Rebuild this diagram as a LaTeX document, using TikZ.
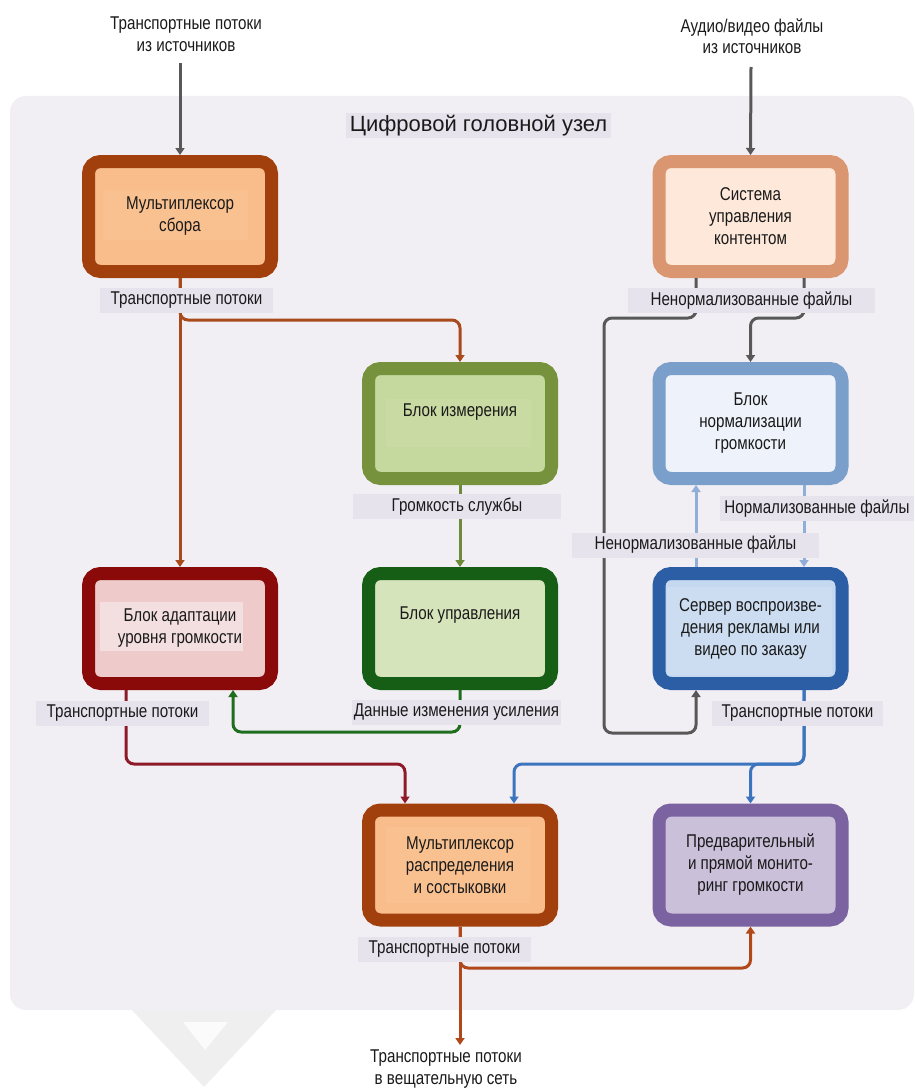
\documentclass[tikz,border=0pt]{standalone}
\usepackage{fontspec}
\setmainfont{Liberation Sans}[FakeStretch=0.82]
\newfontfamily\titlefont{Liberation Sans}
\usetikzlibrary{arrows.meta}

% panel, labels, text
\definecolor{panelbg}{HTML}{F2EFF4}
\definecolor{lblbg}{HTML}{E7E3ED}
\definecolor{chev}{HTML}{EFEFEF}
\definecolor{chevin}{HTML}{FBFBFB}
\definecolor{txtcol}{HTML}{1A1A1A}
% block borders / fills / text areas
\definecolor{b1b}{HTML}{A1400C}\definecolor{b1f}{HTML}{F9BC8B}\definecolor{b1t}{HTML}{F9C190}
\definecolor{b2b}{HTML}{DA9670}\definecolor{b2f}{HTML}{FDE8D9}
\definecolor{b3b}{HTML}{76923C}\definecolor{b3f}{HTML}{C5D89D}\definecolor{b3t}{HTML}{C9DBA3}
\definecolor{b4b}{HTML}{7A9FCB}\definecolor{b4f}{HTML}{EEF2FA}
\definecolor{b5b}{HTML}{8A0A0A}\definecolor{b5f}{HTML}{EECACA}\definecolor{b5t}{HTML}{F3DFDF}
\definecolor{b6b}{HTML}{165E16}\definecolor{b6f}{HTML}{D6E4BC}
\definecolor{b7b}{HTML}{2C5EA6}\definecolor{b7f}{HTML}{C4D8F0}\definecolor{b7t}{HTML}{CCDDF2}
\definecolor{b9b}{HTML}{7B62A0}\definecolor{b9f}{HTML}{CBC0DA}
% connectors
\definecolor{cgray}{HTML}{585858}
\definecolor{cbrown}{HTML}{A94A1C}
\definecolor{colive}{HTML}{6E8B3B}
\definecolor{cgreen}{HTML}{1E6E1E}
\definecolor{cmaroon}{HTML}{8E1A28}
\definecolor{cblue}{HTML}{3C74BE}
\definecolor{clblue}{HTML}{8FAED8}
\definecolor{cbrowntwo}{HTML}{B0481A}

\begin{document}
\begin{tikzpicture}[x=1pt,y=-1pt,
  box/.style 2 args={draw=#1, fill=#2, line width=13pt, rounded corners=12pt,
    minimum width=183pt, minimum height=110pt, inner sep=0pt, outer sep=6.5pt},
  txt/.style={font=\fontsize{18.5}{22}\selectfont, align=center, text=txtcol, inner sep=0pt},
  lbl/.style={txt, fill=lblbg, minimum height=25pt},
  conn/.style={draw=#1, line width=3pt, rounded corners=8pt},
  arrowend/.style={-{Triangle[length=7pt,width=9pt]}},
]
\useasboundingbox (0,0) rectangle (914,1089);

% pointer below the head-end panel
\fill[chev] (130,1008) -- (278,1008) -- (204,1087) -- cycle;
\fill[chevin] (183,1022) -- (228,1022) -- (205,1050) -- cycle;
% head-end panel
\fill[panelbg, rounded corners=16pt] (10,96) rectangle (914,1010);

% blocks
\node[box={b1b}{b1f}] (b1) at (180,216.5) {};
\node[box={b2b}{b2f}] (b2) at (750.5,216.5) {};
\node[box={b3b}{b3f}] (b3) at (460,423.5) {};
\node[box={b4b}{b4f}] (b4) at (750.5,423.5) {};
\node[box={b5b}{b5f}] (b5) at (180,628.5) {};
\node[box={b6b}{b6f}] (b6) at (460,628.5) {};
\node[box={b7b}{b7f}] (b7) at (750.5,628.5) {};
\node[box={b1b}{b1f}] (b8) at (460,865) {};
\node[box={b9b}{b9f}] (b9) at (750.5,865) {};

% text areas inside blocks
\fill[b1t] (103,190) rectangle (248,240);
\fill[b3t] (386,399) rectangle (531,447);
\fill[b5t] (100,602) rectangle (243,651);
\fill[b7t] (667,587) rectangle (832,675);
\fill[b1t] (386,827) rectangle (531,903);

% block captions
\node[txt] (t1) at (b1) {Мультиплексор\\сбора};
\node[txt] (t2) at (b2) {Система\\управления\\контентом};
\node[txt] (t3) at (460,412) {Блок измерения};
\node[txt] (t4) at (b4) {Блок\\нормализации\\громкости};
\node[txt] (t5) at (b5) {Блок адаптации\\уровня громкости};
\node[txt] (t6) at (460,615) {Блок управления};
\node[txt] (t7) at (b7) {Сервер воспроизве-\\дения рекламы или\\видео по заказу};
\node[txt] (t8) at (b8) {Мультиплексор\\распределения\\и состыковки};
\node[txt] (t9) at (b9) {Предварительный\\и прямой монито-\\ринг громкости};

% external texts
\node[txt, font=\fontsize{18.5}{21.5}\selectfont] (src1) at (186,34) {Транспортные потоки\\из источников};
\node[txt, font=\fontsize{18.5}{21.5}\selectfont] (src2) at (752,36) {Аудио/видео файлы\\из источников};
\node[txt, font=\fontsize{18.5}{21.5}\selectfont] (dst) at (446,1069) {Транспортные потоки\\в вещательную сеть};

% connector way points
\coordinate (in1) at (180,63);
\coordinate (in2) at (751,67);
\coordinate (r1) at (460,320);
\coordinate (g1) at (233,732);
\coordinate (m1) at (126,764);
\coordinate (m2) at (405,764);
\coordinate (u1) at (804,764);
\coordinate (u2) at (514,764);
\coordinate (k1) at (604,318);
\coordinate (k2) at (604,733);
\coordinate (k3) at (696,733);
\coordinate (k4) at (804,318);
\coordinate (o1) at (460,1045);
\coordinate (o2) at (750.5,968);

% inputs
\draw[conn=cgray, arrowend] (in1) -- (b1.north);
\draw[conn=cgray, arrowend] (in2) -- (b2.north);
% transport streams from the collecting multiplexer
\draw[conn=cbrown, arrowend] (b1.south) -- (b5.north);
\draw[conn=cbrown, arrowend] (b1.south) |- (r1) -- (b3.north);
% loudness measurement and control
\draw[conn=colive, arrowend] (b3.south) -- (b6.north);
\draw[conn=cgreen, arrowend] (b6.south) |- (g1) -- (g1 |- b5.south);
% adapted streams to the distribution multiplexer
\draw[conn=cmaroon, arrowend] (m1 |- b5.south) -- (m1) -- (m2) -- (m2 |- b8.north);
% server output
\draw[conn=cblue, arrowend] (u1 |- b7.south) -- (u1) -- (u2) -- (u2 |- b8.north);
\draw[conn=cblue, arrowend] (u1 |- b7.south) -- (u1) -| (b9.north);
% content management outputs
\draw[conn=cgray, arrowend] (k3 |- b2.south) |- (k1) -- (k2) -- (k3) -- (k3 |- b7.south);
\draw[conn=cgray, arrowend] (k4 |- b2.south) -- (k4) -| (b4.north);
% normalisation loop
\draw[conn=clblue, arrowend] (k3 |- b7.north) -- (k3 |- b4.south);
\draw[conn=clblue, arrowend] (u1 |- b4.south) -- (u1 |- b7.north);
% distribution output and monitoring
\draw[conn=cbrowntwo, arrowend] (b8.south) -- (o1);
\draw[conn=cbrowntwo, arrowend] (b8.south) |- (o2) -- (b9.south);

% connector labels
\node[lbl, minimum width=173pt] (l1) at (186.5,300.5) {Транспортные потоки};
\node[lbl, minimum width=247pt] (l2) at (751.5,300.5) {Ненормализованные файлы};
\node[lbl, minimum width=208pt] (l3) at (457,506.5) {Громкость службы};
\node[lbl, minimum width=194pt] (l4) at (817,508.5) {Нормализованные файлы};
\node[lbl, minimum width=247pt] (l5) at (695.5,545) {Ненормализованные файлы};
\node[lbl, minimum width=173pt] (l6) at (122.5,713) {Транспортные потоки};
\node[lbl, minimum width=209pt] (l7) at (456.5,712.5) {Данные изменения усиления};
\node[lbl, minimum width=171pt] (l8) at (797.5,713) {Транспортные потоки};
\node[lbl, minimum width=173pt] (l9) at (444.5,949) {Транспортные потоки};

% panel title
\node[lbl, font=\titlefont\fontsize{22}{26}\selectfont, minimum width=265pt] (title) at (478.5,125.5) {Цифровой головной узел};
\end{tikzpicture}
\end{document}
